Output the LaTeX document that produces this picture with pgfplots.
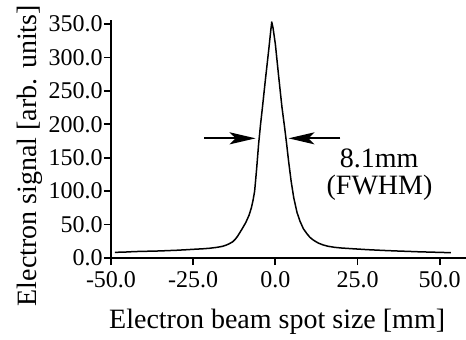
\documentclass[border=0pt]{standalone}
\usepackage{fontspec}
\setmainfont{Liberation Serif}
\usepackage{pgfplots}
\pgfplotsset{compat=1.18}
\usetikzlibrary{arrows.meta}
\pgfplotstableread{
x y
-48.8 8.5
-46 8.8
-43 9.6
-40 10.0
-37 10.3
-35 10.6
-32 11.2
-30 11.6
-27 12.4
-25 13.0
-22 13.8
-20 14.6
-18 15.8
-17 16.6
-16 17.6
-15 19.2
-14 21.4
-13 24.2
-12.2 28
-11.5 32.5
-10.8 38
-10 44.5
-9 53
-8 64
-7.3 75
-6.8 86
-6.3 100
-5.7 133
-5.1 170
-4.5 200
-4 222
-3 268
-2 312
-1.4 340
-1.1 353
-0.7 344
0 320
1.0 272
2.0 226
2.8 196
3.4 172
4.0 146
4.8 115
5.6 90
6.6 68
7.5 55
8.5 44
9.5 37
10.5 31
11.5 27
13 22.5
14.5 19.6
16 17.6
18 16.0
20 15.0
23 14.0
25 13.4
28 12.5
30 12.0
33 11.3
35 10.9
38 10.3
40 10.0
43 9.4
45 9.1
48 8.7
50 8.4
53.4 8.0
}\datatable
\begin{document}
\begin{tikzpicture}
\path[use as bounding box] (-55.5pt,-40.5pt) rectangle (177.5pt,129pt);
\begin{axis}[
  scale only axis,
  width=177.5pt, height=119pt,
  xmin=-50, xmax=58,
  ymin=0, ymax=356,
  axis lines*=left,
  axis line style={line width=1pt},
  every tick/.style={black, line width=0.9pt},
  tick align=outside,
  major tick length=3.5pt,
  xtick={-50,-25,0,25,50},
  ytick={0,50,100,150,200,250,300,350},
  minor tick num=0,
  /pgf/number format/assume math mode=true,
  /pgf/number format/fixed,
  /pgf/number format/fixed zerofill,
  /pgf/number format/precision=1,
  ticklabel style={font=\fontsize{12}{13}\selectfont},
  yticklabel style={inner sep=0.5pt},
  xticklabel style={inner sep=0.5pt, yshift=-2.5pt},
  xlabel={Electron beam spot size [mm]},
  ylabel={Electron signal [arb. units]},
  label style={font=\fontsize{14}{16}\selectfont},
  xlabel style={at={(axis description cs:0.468,-0.269)}, anchor=center},
  ylabel style={at={(axis description cs:-0.228,0.43)}, anchor=center, rotate=0},
  clip=false,
]
\addplot[black, line width=0.75pt, line join=round] table[x=x,y=y] {\datatable};
\draw[line width=1pt, -{Stealth[length=13pt,width=6pt,inset=3pt]}] (axis cs:-21.6,179) -- (axis cs:-6.0,179);
\draw[line width=1pt, -{Stealth[length=13pt,width=6pt,inset=3pt]}] (axis cs:19.8,179) -- (axis cs:4.0,179);
\node[font=\fontsize{14}{16}\selectfont, anchor=center] at (axis cs:31.6,148.8) {8.1mm};
\node[font=\fontsize{14}{16}\selectfont, anchor=center] at (axis cs:31.7,104.7) {(FWHM)};
\end{axis}
\end{tikzpicture}
\end{document}
